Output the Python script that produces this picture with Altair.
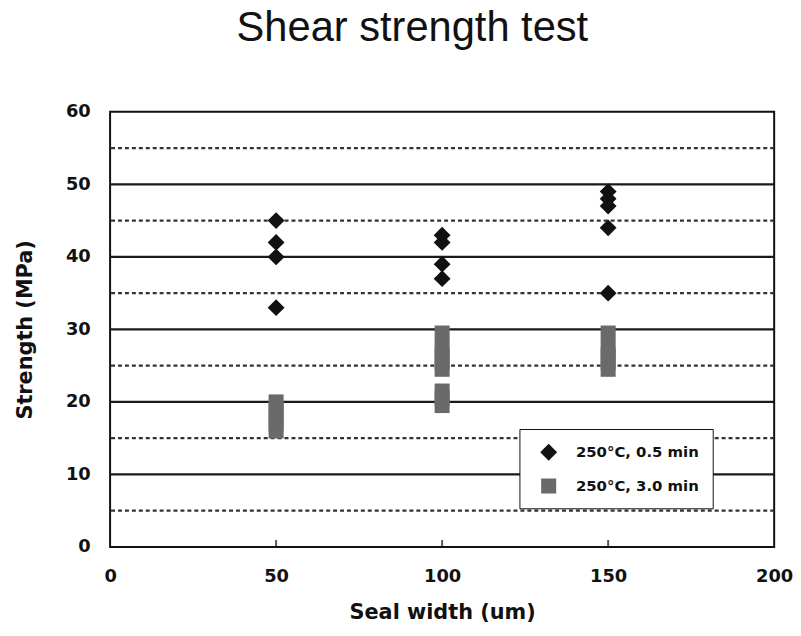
import altair as alt
import pandas as pd

# ---- data ----
series_a = "250°C, 0.5 min"
series_b = "250°C, 3.0 min"

a_x = [50, 50, 50, 50, 100, 100, 100, 100, 150, 150, 150, 150, 150]
a_y = [45, 42, 40, 33, 43, 42, 39, 37, 49, 48, 47, 44, 35]

b_x = [50, 50, 50, 50, 50, 100, 100, 100, 100, 100, 100, 100, 100,
       150, 150, 150, 150, 150]
b_y = [16, 17, 18, 19, 20, 19.5, 20.5, 21.5, 24.5, 25.5, 26.5, 27.5, 29.5,
       24.5, 25.5, 26.5, 27.5, 29.5]

major_grid = [10, 20, 30, 40, 50]
minor_grid = [5, 15, 25, 35, 45, 55]
x_ticks = [0, 50, 100, 150, 200]
y_ticks = [0, 10, 20, 30, 40, 50, 60]

points = pd.DataFrame({
    "x": a_x + b_x,
    "y": a_y + b_y,
    "series": [series_a] * len(a_x) + [series_b] * len(b_x),
})
major_df = pd.DataFrame({"y": major_grid})
minor_df = pd.DataFrame({"y": minor_grid})
tick_df = pd.DataFrame({"x": [50, 100, 150]})

W, H = 670, 439
TFONT = "Liberation Sans"
BFONT = "DejaVu Sans"

xscale = alt.Scale(domain=[0, 200], nice=False)
yscale = alt.Scale(domain=[0, 60], nice=False)

major = alt.Chart(major_df).mark_rule(color="#1a1a1a", strokeWidth=2.2).encode(
    y=alt.Y("y:Q", scale=yscale)
)
minor = alt.Chart(minor_df).mark_rule(
    color="#333333", strokeWidth=2.2, strokeDash=[4, 3]
).encode(y=alt.Y("y:Q", scale=yscale))

xticks_layer = alt.Chart(tick_df).mark_tick(
    color="#111111", thickness=2, size=7
).encode(
    x=alt.X("x:Q", scale=xscale),
    y=alt.value(H - 3.5),
)

pts = alt.Chart(points).mark_point(filled=True, opacity=1).encode(
    x=alt.X(
        "x:Q",
        scale=xscale,
        title="Seal width (um)",
        axis=alt.Axis(
            values=x_ticks, grid=False, ticks=False, domain=False,
            labelFlush=False, labelPadding=21, titlePadding=16,
        ),
    ),
    y=alt.Y(
        "y:Q",
        scale=yscale,
        title="Strength (MPa)",
        axis=alt.Axis(
            values=y_ticks, grid=False, ticks=False, domain=False,
            labelPadding=20, titlePadding=30,
        ),
    ),
    color=alt.Color(
        "series:N",
        scale=alt.Scale(domain=[series_a, series_b], range=["#111111", "#6a6a6a"]),
        title=None,
        legend=alt.Legend(
            orient="none", legendX=413, legendY=320,
            fillColor="white", strokeColor="#111111",
            padding=14, rowPadding=16, symbolSize=200,
            labelFontSize=15, labelFontWeight="bold", labelFont=BFONT,
            labelColor="#111111",
            labelOffset=18, symbolOffset=6,
        ),
    ),
    shape=alt.Shape(
        "series:N",
        scale=alt.Scale(domain=[series_a, series_b], range=["diamond", "square"]),
        title=None,
    ),
    size=alt.Size(
        "series:N",
        scale=alt.Scale(domain=[series_a, series_b], range=[290, 230]),
        legend=None,
    ),
)

chart = alt.layer(minor, major, xticks_layer, pts).properties(
    width=W,
    height=H,
    title=alt.TitleParams(
        "Shear strength test", fontSize=42, font=TFONT, fontWeight="normal",
        color="#111111", offset=53, dx=-30,
    ),
    autosize=alt.AutoSizeParams(type="none"),
    padding={"left": 103, "top": 102, "right": 19, "bottom": 80},
).configure_view(
    stroke="#111111", strokeWidth=2
).configure_axis(
    labelFont=BFONT, labelFontSize=18, labelFontWeight="bold", labelColor="#111111",
    titleFont=BFONT, titleFontSize=21, titleFontWeight="bold", titleColor="#111111",
)

chart.save("out.html", embed_options={"renderer": "svg", "actions": False})
